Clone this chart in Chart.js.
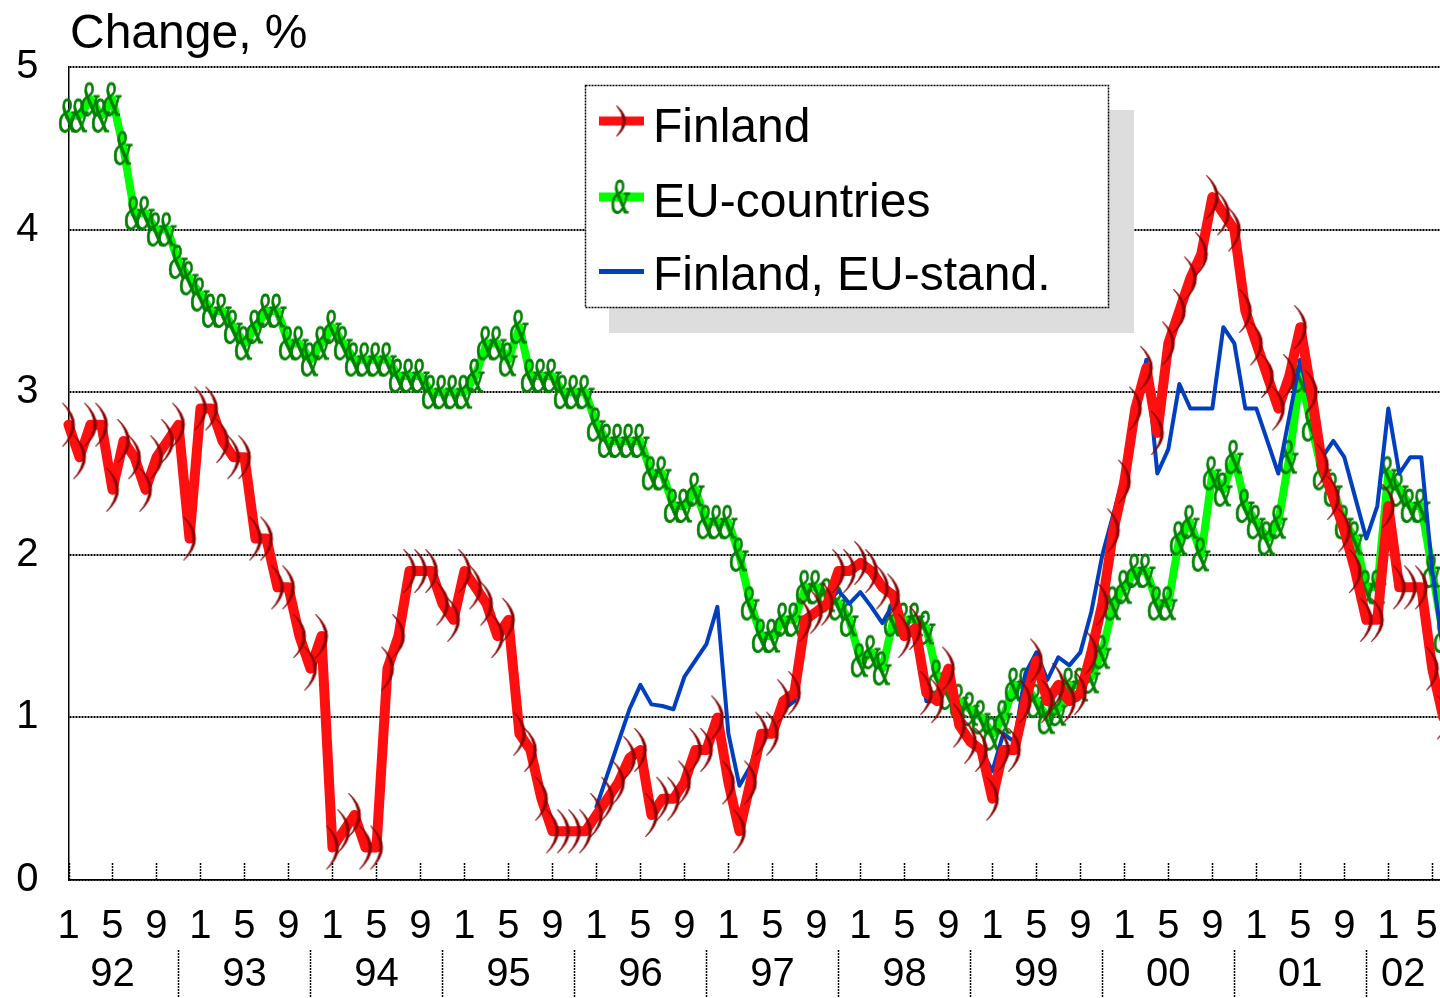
<!DOCTYPE html>
<html>
<head>
<meta charset="utf-8">
<title>Change, %</title>
<script src="https://cdn.jsdelivr.net/npm/chart.js@4.4.1/dist/chart.umd.min.js"></script>
<style>
  html, body { margin: 0; padding: 0; background: #fff; }
  #wrap { width: 1440px; height: 998px; }
</style>
</head>
<body>
<div id="wrap"><canvas id="myChart"></canvas></div>
<script>
// monthly values, index 0 = January 1992
const finland = [
  2.8, 2.6, 2.8, 2.8, 2.4, 2.7, 2.6, 2.4, 2.6, 2.7, 2.8, 2.1,
  2.9, 2.9, 2.7, 2.6, 2.6, 2.1, 2.1, 1.8, 1.8, 1.5, 1.3, 1.5,
  0.2, 0.3, 0.4, 0.2, 0.2, 1.3, 1.5, 1.9, 1.9, 1.9, 1.7, 1.6,
  1.9, 1.8, 1.7, 1.5, 1.6, 0.9, 0.8, 0.5, 0.3, 0.3, 0.3, 0.3,
  0.4, 0.5, 0.6, 0.75, 0.8, 0.4, 0.5, 0.5, 0.6, 0.8, 0.8, 1.0,
  0.6, 0.3, 0.6, 0.9, 0.9, 1.1, 1.15, 1.6, 1.65, 1.7, 1.9, 1.9,
  1.95, 1.9, 1.8, 1.75, 1.5, 1.55, 1.15, 1.1, 1.3, 0.95, 0.85, 0.8,
  0.5, 0.8, 0.8, 1.1, 1.35, 1.1, 1.2, 1.1, 1.15, 1.4, 1.7, 2.15,
  2.45, 2.9, 3.15, 2.75, 3.3, 3.5, 3.7, 3.85, 4.2, 4.1, 4.0, 3.5,
  3.3, 3.1, 2.9, 3.1, 3.4, 3.0, 2.55, 2.35, 2.15, 1.9, 1.6, 1.6,
  2.3, 1.8, 1.8, 1.8, 1.3, 1.0
];
const euCountries = [
  4.7, 4.7, 4.8, 4.7, 4.8, 4.5, 4.1, 4.1, 4.0, 4.0, 3.8, 3.7,
  3.6, 3.5, 3.5, 3.4, 3.3, 3.4, 3.5, 3.5, 3.3, 3.3, 3.2, 3.3,
  3.4, 3.3, 3.2, 3.2, 3.2, 3.2, 3.1, 3.1, 3.1, 3.0, 3.0, 3.0,
  3.0, 3.1, 3.3, 3.3, 3.2, 3.4, 3.1, 3.1, 3.1, 3.0, 3.0, 3.0,
  2.8, 2.7, 2.7, 2.7, 2.7, 2.5, 2.5, 2.3, 2.3, 2.4, 2.2, 2.2,
  2.2, 2.0, 1.7, 1.5, 1.5, 1.6, 1.6, 1.8, 1.8, 1.75, 1.7, 1.6,
  1.35, 1.4, 1.3, 1.6, 1.6, 1.6, 1.55, 1.25, 1.15, 1.1, 1.05, 1.0,
  0.9, 1.0, 1.2, 1.2, 1.1, 1.0, 1.05, 1.2, 1.2, 1.25, 1.4, 1.7,
  1.8, 1.9, 1.9, 1.7, 1.7, 2.1, 2.2, 2.0, 2.5, 2.4, 2.6, 2.3,
  2.2, 2.1, 2.2, 2.6, 3.1, 2.8, 2.5, 2.4, 2.2, 2.1, 1.8, 1.8,
  2.5, 2.4, 2.3, 2.3, 1.9, 1.5
];
// EU-standardised Finnish index only from 1996
const finlandEU = [
  null, null, null, null, null, null, null, null, null, null, null, null,
  null, null, null, null, null, null, null, null, null, null, null, null,
  null, null, null, null, null, null, null, null, null, null, null, null,
  null, null, null, null, null, null, null, null, null, null, null, null,
  0.45, 0.65, 0.85, 1.05, 1.2, 1.08, 1.07, 1.05, 1.25, 1.35, 1.45, 1.68,
  0.9, 0.58, 0.7, 0.9, 0.9, 1.05, 1.1, 1.6, 1.65, 1.7, 1.78, 1.7,
  1.77, 1.68, 1.58, 1.7, 1.5, 1.55, 1.1, 1.1, 1.3, 0.95, 0.85, 0.8,
  0.67, 0.9, 0.85, 1.27, 1.4, 1.23, 1.37, 1.32, 1.4, 1.65, 2.0, 2.25,
  2.5, 2.85, 3.2, 2.5, 2.65, 3.05, 2.9, 2.9, 2.9, 3.4, 3.3, 2.9,
  2.9, 2.7, 2.5, 2.85, 3.2, 2.9, 2.6, 2.7, 2.6, 2.35, 2.1, 2.3,
  2.9, 2.5, 2.6, 2.6, 1.9, 1.4
];
const monthTicks = ['1', '5', '9'];
const years = ['92', '93', '94', '95', '96', '97', '98', '99', '00', '01', '02'];

const FONT = '"Liberation Sans", Arial, sans-serif';

// thin ")" crescent, the Finland marker
function parenMarker(h, w, color) {
  const c = document.createElement('canvas');
  c.width = w + 4;
  c.height = h + 4;
  const g = c.getContext('2d');
  g.fillStyle = color;
  g.strokeStyle = color;
  g.lineWidth = 1;
  g.beginPath();
  g.moveTo(2, 2);
  g.quadraticCurveTo(2 + 2 * w, 2 + h / 2, 2, 2 + h);
  g.quadraticCurveTo(2 + 2 * w - 5, 2 + h / 2, 2, 2);
  g.fill();
  g.stroke();
  return c;
}

// "&" glyph marker, squeezed sideways
function ampMarker(font, color, sx) {
  const c = document.createElement('canvas');
  let g = c.getContext('2d');
  g.font = font;
  const m = g.measureText('&');
  const gw = (m.actualBoundingBoxLeft + m.actualBoundingBoxRight) * sx;
  const gh = m.actualBoundingBoxAscent + m.actualBoundingBoxDescent;
  c.width = Math.ceil(gw) + 4;
  c.height = Math.ceil(gh) + 4;
  g = c.getContext('2d');
  g.font = font;
  g.fillStyle = color;
  g.strokeStyle = color;
  g.lineWidth = 0.9;
  g.translate(2, 2);
  g.scale(sx, 1);
  g.fillText('&', m.actualBoundingBoxLeft, m.actualBoundingBoxAscent);
  g.strokeText('&', m.actualBoundingBoxLeft, m.actualBoundingBoxAscent);
  return c;
}

const parenMark = parenMarker(44, 12, '#8b0000');
const parenSmall = parenMarker(31, 9, '#8b0000');
const ampMark = ampMarker('italic 50px "Liberation Serif"', '#008000', 0.5);

function toPoints(arr) {
  return arr.map((v, i) => ({ x: i, y: v }));
}

// title, year row, inner ticks and the boxed legend
const extras = {
  id: 'extras',
  afterDraw(chart) {
    const ctx = chart.ctx;
    const xs = chart.scales.x;
    const area = chart.chartArea;
    ctx.save();

    ctx.strokeStyle = '#000';
    ctx.lineWidth = 1.5;
    ctx.setLineDash([2, 1]);
    xs.ticks.forEach(t => {
      const px = Math.round(xs.getPixelForValue(t.value)) + 0.5;
      ctx.beginPath();
      ctx.moveTo(px, area.bottom);
      ctx.lineTo(px, area.bottom - 17);
      ctx.stroke();
    });
    for (let k = 1; k < years.length; k++) {
      const px = Math.round(xs.getPixelForValue(12 * k - 2)) + 0.5;
      ctx.beginPath();
      ctx.moveTo(px, 950);
      ctx.lineTo(px, 998);
      ctx.stroke();
    }

    ctx.fillStyle = '#000';
    ctx.font = '40px ' + FONT;
    ctx.textAlign = 'center';
    ctx.textBaseline = 'middle';
    years.forEach((yr, k) => {
      const a = 12 * k - 2;
      const b = Math.min(12 * k + 10, xs.max);
      ctx.fillText(yr, xs.getPixelForValue((a + b) / 2), 975);
    });

    ctx.textAlign = 'left';
    ctx.textBaseline = 'alphabetic';
    ctx.font = '48px ' + FONT;
    ctx.fillText('Change, %', 70, 48);

    // legend
    const lx = 585, ly = 85, lw = 523, lh = 222;
    ctx.fillStyle = '#dddddd';
    ctx.fillRect(lx + 24, ly + 25, lw + 2, lh + 1);
    ctx.fillStyle = '#fff';
    ctx.fillRect(lx, ly, lw, lh);
    ctx.strokeStyle = '#000';
    ctx.lineWidth = 1.5;
    ctx.setLineDash([2, 1]);
    ctx.strokeRect(lx + 0.5, ly + 0.5, lw, lh);
    ctx.setLineDash([]);

    const rowY = [121, 197, 271.5];
    const textY = [142, 217, 290];
    const marks = [parenSmall, ampMark, null];
    chart.data.datasets.forEach((ds, i) => {
      ctx.strokeStyle = ds.borderColor;
      ctx.lineWidth = i === 2 ? 5 : 9;
      ctx.lineCap = 'butt';
      ctx.beginPath();
      ctx.moveTo(599, rowY[i]);
      ctx.lineTo(644, rowY[i]);
      ctx.stroke();
      if (marks[i]) {
        ctx.drawImage(marks[i], 621 - marks[i].width / 2, rowY[i] - marks[i].height / 2);
      }
      ctx.fillStyle = '#000';
      ctx.fillText(ds.label, 653, textY[i]);
    });

    ctx.restore();
  }
};

const lastTick = 124;

const ctx = document.getElementById('myChart').getContext('2d');
const myChart = new Chart(ctx, {
  type: 'line',
  data: {
    datasets: [
      {
        label: 'Finland',
        data: toPoints(finland),
        borderColor: '#ff0f0f',
        borderWidth: 10,
        pointStyle: parenMark,
        pointRadius: 5,
        order: 0
      },
      {
        label: 'EU-countries',
        data: toPoints(euCountries),
        borderColor: '#00ff00',
        borderWidth: 8,
        pointStyle: ampMark,
        pointRadius: 5,
        order: 2
      },
      {
        label: 'Finland, EU-stand.',
        data: toPoints(finlandEU),
        borderColor: '#0040c0',
        borderWidth: 4,
        pointRadius: 0,
        order: 1
      }
    ]
  },
  options: {
    responsive: true,
    maintainAspectRatio: false,
    animation: false,
    events: [],
    layout: { autoPadding: false, padding: { top: 67, right: 0, bottom: 0, left: 0 } },
    elements: {
      line: { tension: 0, borderJoinStyle: 'round', borderCapStyle: 'round' }
    },
    datasets: { line: { clip: false, spanGaps: false } },
    plugins: {
      legend: { display: false },
      tooltip: { enabled: false },
      title: { display: false }
    },
    scales: {
      x: {
        type: 'linear',
        min: 0,
        max: 124.7,
        afterBuildTicks: s => {
          const t = [];
          for (let v = 0; v <= s.max; v += 4) t.push({ value: v });
          s.ticks = t;
        },
        afterFit: s => {
          s.height = 118;
          s.paddingLeft = 0;
          s.paddingRight = 0;
        },
        ticks: {
          autoSkip: false,
          maxRotation: 0,
          padding: 23,
          color: '#000',
          font: { family: FONT, size: 40 },
          // trailing space nudges the last label left so it is not cut at the edge
          callback: v => monthTicks[(v % 12) / 4] + (v === lastTick ? ' ' : '')
        },
        grid: { display: false, drawTicks: false },
        border: { display: true, color: '#000', width: 1.5 }
      },
      y: {
        min: 0,
        max: 5,
        afterFit: s => {
          s.width = 68.5;
          s.paddingTop = 0;
          s.paddingBottom = 0;
        },
        ticks: {
          stepSize: 1,
          padding: 30,
          color: '#000',
          font: { family: FONT, size: 40 }
        },
        grid: { color: '#000', lineWidth: 2, drawTicks: false },
        border: { display: true, color: '#000', width: 1.5, dash: [2, 1] }
      }
    }
  },
  plugins: [extras]
});
</script>
</body>
</html>
